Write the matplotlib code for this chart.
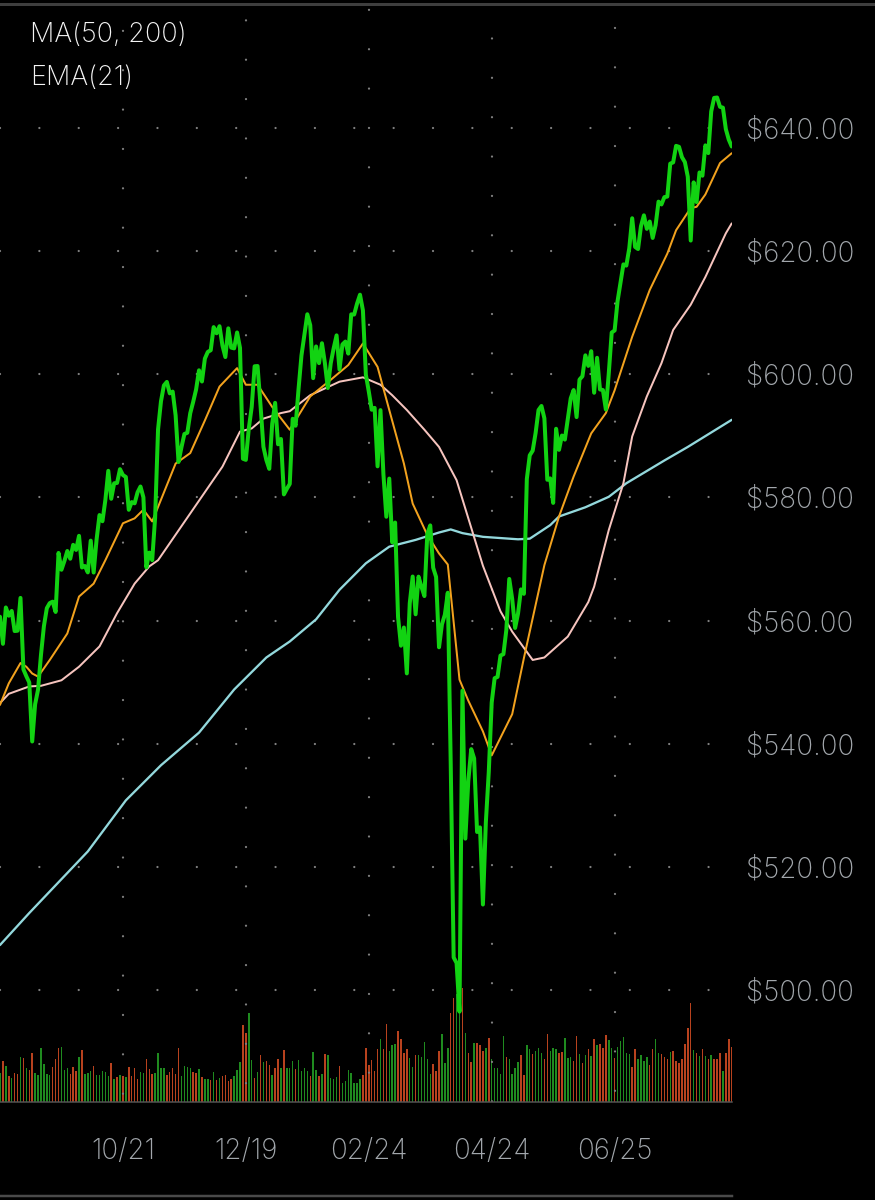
import numpy as np
import pandas as pd
import matplotlib
matplotlib.use("Agg")
import matplotlib.pyplot as plt
from matplotlib.lines import Line2D

# ---------------- data ----------------
holidays = ['2024-09-02', '2024-11-28', '2024-12-25', '2025-01-01', '2025-01-09',
            '2025-01-20', '2025-02-17', '2025-04-18', '2025-05-26', '2025-06-19', '2025-07-04']
dates = pd.bdate_range('2024-08-21', '2025-08-21', freq='C', holidays=holidays)

close = [
    560.62, 556.22, 562.13, 560.79, 561.56, 558.30, 558.35, 563.68, 552.08, 550.95,
    549.94, 540.36, 546.41, 548.79, 554.42, 559.09, 562.01, 562.84, 563.07, 561.40,
    570.98, 568.25, 569.67, 571.30, 570.04, 572.30, 571.47, 573.76, 568.62, 568.86,
    567.82, 572.98, 567.80, 573.17, 577.14, 576.13, 579.58, 584.32, 579.78, 582.30,
    582.35, 584.59, 583.63, 583.32, 577.99, 579.24, 579.04, 580.83, 581.77, 580.01,
    568.64, 571.04, 569.81, 576.70, 591.04, 595.61, 598.19, 598.76, 596.90, 597.19,
    593.35, 585.75, 588.15, 590.30, 590.50, 593.67, 595.51, 597.53, 600.65, 598.83,
    602.55, 603.63, 603.91, 607.66, 606.66, 607.81, 604.68, 602.80, 607.46, 604.33,
    604.21, 606.79, 604.29, 586.28, 586.10, 591.15, 594.69, 601.30, 601.34, 595.01,
    588.22, 586.08, 584.64, 591.95, 595.36, 588.63, 589.49, 580.49, 581.39, 582.19,
    592.78, 591.64, 597.58, 603.05, 606.44, 609.75, 607.97, 599.37, 604.52, 601.81,
    605.04, 601.82, 597.77, 601.78, 604.22, 606.32, 600.77, 604.85, 605.31, 603.36,
    609.73, 609.70, 611.49, 612.93, 610.38, 599.94, 597.21, 594.24, 594.54, 585.05,
    594.18, 583.77, 576.86, 583.06, 572.71, 575.92, 560.58, 555.92, 558.87, 551.42,
    562.81, 567.15, 561.02, 567.13, 565.49, 563.98, 574.08, 575.46, 568.59, 567.08,
    555.66, 559.39, 560.97, 564.52, 536.70, 505.28, 504.38, 496.48, 548.62, 524.58,
    533.94, 539.12, 537.61, 525.66, 526.41, 513.88, 527.25, 535.42, 546.69, 550.64,
    550.85, 554.32, 554.54, 558.47, 566.76, 563.51, 558.80, 561.15, 565.06, 564.34,
    582.99, 586.84, 587.59, 590.46, 594.20, 594.85, 592.85, 582.86, 583.09, 579.11,
    591.15, 587.73, 590.05, 589.39, 592.71, 596.09, 597.44, 593.05, 599.14, 599.68,
    603.08, 601.36, 603.75, 597.00, 602.68, 597.53, 597.44, 594.28, 600.15, 606.78,
    607.12, 611.87, 614.91, 617.85, 617.65, 620.45, 625.34, 620.68, 620.34, 624.06,
    625.82, 623.62, 624.81, 622.14, 624.22, 628.04, 627.58, 628.77, 628.86, 634.21,
    634.42, 637.10, 636.94, 635.26, 634.46, 632.08, 621.72, 631.17, 627.97, 632.78,
    632.25, 637.18, 635.92, 642.69, 644.89, 644.95, 643.44, 643.30, 639.81, 638.11,
    637.00,
]

# relative daily volume (bar height units)
volume = [
    29, 41, 36, 26, 24, 29, 28, 45, 44, 34,
    32, 49, 29, 27, 54, 38, 28, 27, 35, 43,
    54, 55, 32, 34, 28, 35, 31, 45, 52, 28,
    29, 31, 36, 27, 27, 31, 30, 26, 39, 23,
    25, 27, 26, 25, 35, 26, 34, 23, 30, 29,
    43, 33, 28, 29, 49, 34, 34, 27, 30, 34,
    28, 54, 26, 36, 35, 34, 30, 29, 33, 25,
    23, 23, 22, 30, 22, 24, 26, 27, 21, 23,
    26, 32, 40, 77, 69, 89, 42, 24, 30, 47,
    40, 41, 37, 27, 34, 43, 34, 52, 34, 34,
    41, 33, 42, 31, 34, 31, 26, 50, 32, 26,
    28, 48, 47, 24, 23, 25, 36, 19, 21, 32,
    29, 19, 19, 23, 27, 54, 37, 42, 31, 53,
    63, 53, 78, 51, 57, 58, 71, 63, 49, 53,
    44, 35, 47, 47, 45, 60, 43, 28, 38, 31,
    51, 68, 39, 54, 89, 104, 108, 112, 114, 69,
    49, 40, 59, 59, 57, 51, 54, 64, 43, 34,
    34, 28, 66, 45, 43, 28, 34, 40, 47, 27,
    57, 53, 48, 51, 54, 49, 43, 68, 51, 54,
    53, 49, 50, 64, 44, 45, 41, 66, 48, 39,
    47, 53, 46, 63, 57, 58, 54, 67, 62, 54,
    44, 55, 61, 65, 49, 48, 35, 53, 43, 47,
    41, 45, 37, 53, 63, 49, 48, 45, 43, 50,
    51, 41, 39, 43, 58, 74, 99, 52, 49, 46,
    53, 46, 43, 47, 43, 43, 49, 31, 49, 63,
    55,
]
# G = up bar, R = down bar
vol_dir = ("GRGRGRRGRG" "RRGGGGGGRR" "RGGGRRRGRG" "GGRGGGGGRG" "RGRGRRRRGG"
           "RRRGGGGRRR" "RRGGGGRRGR" "GGRGRGRRRR" "GGGRRGGRGR" "GRRGRRGRGG"
           "GRGGGGRGGR" "GRGGGGRGGG" "GGGGRRRRRR" "GRRGGGRRRR" "GGRGGGGGRR"
           "RGGGRRGGRG" "RRGRRRGRGG" "GGGRGGGGRR" "GGRGGGRRGG" "GRRGGGRRGR"
           "GRGRGRRRGG" "RGGGGGRRGG" "GGRRGGRRRG" "RRRRRRRGRG" "RGRGRRRGRR" "R")

# moving averages (trading-day number, value)
ema21_day = [0, 3, 7, 9, 11, 13, 17, 23, 27, 32, 36, 42, 46, 49, 52, 60, 65, 70, 75, 81,
             84, 88, 93, 99, 106, 113, 119, 124, 129, 133, 138, 141, 146, 150, 153, 157,
             160, 165, 168, 175, 179, 186, 191, 196, 202, 207, 210, 216, 222, 228, 231,
             236, 238, 241, 246, 250]
ema21_val = [546.3, 549.8, 553.1, 552.5, 551.4, 550.9, 553.6, 557.9, 563.9, 566.0, 569.8,
             575.8, 576.6, 578.0, 576.1, 585.5, 587.2, 592.5, 598.0, 601.0, 598.3, 598.3,
             594.7, 591.0, 596.4, 599.1, 601.5, 605.0, 601.2, 594.2, 585.5, 579.0, 573.9,
             570.9, 569.1, 550.4, 547.0, 542.0, 538.1, 544.8, 553.9, 569.0, 576.9, 583.4,
             590.4, 593.7, 597.4, 606.1, 613.7, 619.6, 623.4, 627.0, 627.2, 629.2, 634.3,
             635.9]

ma50_day = [0, 3, 10, 14, 21, 27, 34, 40, 46, 51, 54, 65, 76, 82, 86, 90, 96, 99, 106,
            116, 124, 130, 134, 139, 145, 150, 156, 165, 171, 175, 182, 186, 194, 201,
            203, 208, 213, 216, 221, 226, 230, 236, 241, 248, 250]
ma50_val = [546.6, 548.1, 549.3, 549.4, 550.3, 552.5, 555.8, 561.2, 566.0, 568.8, 569.8,
            577.4, 585.0, 590.7, 591.2, 592.8, 593.7, 594.0, 596.6, 598.8, 599.5, 598.3,
            596.6, 594.2, 591.0, 588.2, 582.8, 568.9, 561.5, 558.2, 553.6, 554.0, 557.4,
            563.0, 565.5, 574.7, 582.3, 589.9, 596.4, 601.8, 607.2, 611.3, 615.8, 622.9,
            624.5]

ma200_day = [0, 10, 20, 30, 43, 55, 68, 80, 91, 99, 108, 116, 125, 133, 142, 150, 154,
             158, 165, 177, 181, 188, 191, 200, 208, 214, 227, 235, 250]
ma200_val = [507.3, 512.5, 517.5, 522.5, 530.8, 536.5, 541.8, 548.8, 554.0, 556.6, 560.2,
             565.0, 569.3, 572.0, 573.1, 574.3, 574.8, 574.2, 573.6, 573.2, 573.3, 575.5,
             576.9, 578.4, 580.1, 582.3, 586.0, 588.2, 592.6]

price_ticks = [500, 520, 540, 560, 580, 600, 620, 640]
date_ticks = ['2024-10-21', '2024-12-19', '2025-02-24', '2025-04-24', '2025-06-25']
legend_lines = ['MA(50, 200)', 'EMA(21)']

# ---------------- style ----------------
BG = '#000000'
C_PRICE = '#12d312'
C_EMA = '#f2a21e'
C_MA50 = '#f6c4be'
C_MA200 = '#93d8dc'
C_VUP = '#1f8b1f'
C_VDN = '#b8421e'
C_DOT = '#808080'
C_LABEL = '#a2a7ac'
FONT = ['Inter', 'DejaVu Sans']
WEIGHT = 'light'

plt.rcParams['font.family'] = FONT
plt.rcParams['lines.scale_dashes'] = False

W, H = 875, 1200
fig = plt.figure(figsize=(W / 100, H / 100), dpi=100, facecolor=BG)

PX = 0.72  # points per pixel at 100 dpi
plot_left, plot_right = 0, 732
plot_top, plot_bottom = 4, 1102
rect = [plot_left / W, 1 - plot_bottom / H, (plot_right - plot_left) / W,
        (plot_bottom - plot_top) / H]

n = len(close)
x = np.arange(n)
xmax = (n - 1) * 732 / 731.7

# volume axes (behind)
axv = fig.add_axes(rect, facecolor=BG)
axv.set_xlim(0, xmax)
axv.set_ylim(0, plot_bottom - plot_top)
vcolors = [C_VUP if d == 'G' else C_VDN for d in vol_dir]
axv.bar(x, volume, width=0.5, color=vcolors, linewidth=0)
axv.axis('off')

# price axes
ax = fig.add_axes(rect, facecolor='none')
ax.set_xlim(0, xmax)
y_top = 640 + (128 - plot_top) / 6.157
y_bot = 640 - (plot_bottom - 128) / 6.157
ax.set_ylim(y_bot, y_top)
for s in ax.spines.values():
    s.set_visible(False)

# dotted grid: horizontal rows
period = 39.35 * PX
for p in price_ticks:
    ax.plot([0, xmax], [p, p], color=C_DOT, lw=2.3 * PX, dashes=(0.01, period),
            dash_capstyle='round', zorder=1)

tick_pos = [dates.get_loc(pd.Timestamp(d)) for d in date_ticks]
offsets_px = [8.3, 18.8, 29.3, 0.7, 11.2]
for tp, o in zip(tick_pos, offsets_px):
    ax.plot([tp, tp], [y_bot, y_top + 5], color=C_DOT, lw=2.3 * PX,
            linestyle=((39.35 - o) * PX, (0.01, period)),
            dash_capstyle='round', zorder=1)

# lines
ax.plot(ma200_day, ma200_val, color=C_MA200, lw=2.3 * PX, zorder=3,
        solid_capstyle='round', solid_joinstyle='round')
ax.plot(ma50_day, ma50_val, color=C_MA50, lw=2.0 * PX, zorder=3,
        solid_capstyle='round', solid_joinstyle='round')
ax.plot(ema21_day, ema21_val, color=C_EMA, lw=2.0 * PX, zorder=4,
        solid_capstyle='round', solid_joinstyle='round')
ax.plot(x, close, color=C_PRICE, lw=4.0 * PX, zorder=5, solid_joinstyle='round',
        solid_capstyle='round')

# axes ticks
ax.yaxis.tick_right()
ax.set_yticks(price_ticks)
ax.set_yticklabels([f'${p:.2f}' for p in price_ticks], fontweight=WEIGHT)
ax.set_xticks(tick_pos)
ax.set_xticklabels([pd.Timestamp(d).strftime('%m/%d') for d in date_ticks],
                   fontweight=WEIGHT)
ax.tick_params(axis='y', length=0, pad=14.5 * PX, labelsize=20, labelcolor=C_LABEL)
ax.tick_params(axis='x', length=0, pad=36 * PX, labelsize=20, labelcolor=C_LABEL)

# legend text (under the dots)
for i, t in enumerate(legend_lines):
    ax.text(30 / W, 1 - (35 + 43 * i) / H, t, transform=fig.transFigure, color='#f4f4f4',
            fontsize=19.5, fontweight=WEIGHT, va='center', ha='left', zorder=0.5)

# frame lines
fig.add_artist(Line2D([0, 1], [1 - 3.5 / H, 1 - 3.5 / H], transform=fig.transFigure,
                      color='#3e3e3e', lw=3 * PX))
fig.add_artist(Line2D([0, plot_right / W], [1 - plot_bottom / H, 1 - plot_bottom / H],
                      transform=fig.transFigure, color='#555555', lw=1.5 * PX))
fig.add_artist(Line2D([0, plot_right / W], [1 - 1196 / H, 1 - 1196 / H],
                      transform=fig.transFigure, color='#4a4a4a', lw=2.5 * PX))

fig.savefig('out.png', dpi=100, facecolor=BG)
